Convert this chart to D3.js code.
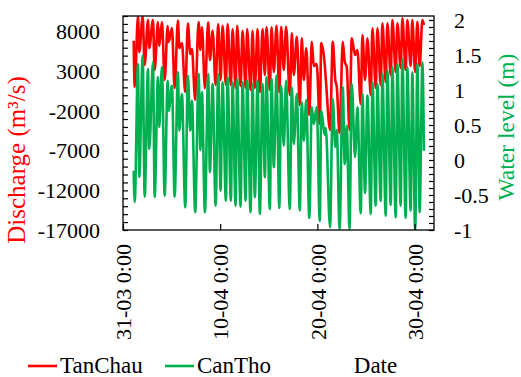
<!DOCTYPE html>
<html><head><meta charset="utf-8">
<script src="https://cdn.jsdelivr.net/npm/d3@7"></script>
<style>
body{margin:0;background:#fff}
svg{display:block}
svg text{font-family:"Liberation Serif","Times New Roman",Times,"DejaVu Serif",serif;fill:#000}
</style>
</head><body>
<svg id="chart" width="521" height="377"></svg>
<script>
// hours since 31-03 00:00 (tidal turning points)
const hours = [26.4,28.9,37.0,40.2,48.6,53.5,61.7,64.9,74.0,78.2,86.3,89.5,96.2,102.9,110.3,112.7,120.9,127.5,135.7,138.9,145.5,153.7,160.3,166.0,170.2,178.3,186.7,191.2,194.9,202.3,210.4,214.6,221.3,228.7,235.1,241.0,245.9,254.1,258.3,266.4,270.6,278.0,281.9,290.3,295.3,302.7,306.6,315.0,319.9,325.6,332.3,337.9,344.6,350.3,354.4,362.6,366.8,372.5,379.1,386.0,390.5,397.1,402.8,411.9,416.9,421.8,429.2,436.6,441.5,446.5,452.6,460.0,466.2,471.1,478.5,485.9,489.6,498.3,500.7,511.3,518.0,524.2,527.9,534.8,542.7,547.6,552.5,559.4,564.9,573.0,578.9,587.1,591.3,597.7,603.6,611.8,616.0,624.1,628.3,636.4,640.6,648.7,652.9,661.1,665.2,673.4,677.6,685.7,689.9,698.0,702.2,710.3,714.5,721.5,726.9,732.6,739.3,743.2];
// TanChau discharge (m3/s)
const tanChau = [6884,1042,9937,5458,9937,3818,9496,5963,9496,3187,9243,6215,9243,1926,8739,6720,8486,916,9433,5963,6594,411,9054,5206,5837,-598,9243,5711,8613,916,9205,4449,8146,1295,8991,1926,8777,1295,8991,1295,8360,916,8777,1168,8146,916,8360,664,8146,916,8360,411,8360,2556,8575,664,8575,2935,8777,411,8650,3187,8650,33,7818,2556,7389,-1229,7187,1926,5925,-2490,6758,3692,3944,-3626,6594,3818,2178,-4383,6758,1926,1080,-4762,6758,4197,3604,-4383,7187,5080,5711,-1103,7603,1926,7187,33,8448,916,8448,1295,9079,1673,9079,2556,9496,2935,9079,3440,9710,3187,9496,3692,9496,2935,9281,3692,9496,8865];
// CanTho water level (m)
const canTho = [-0.153,-0.60,1.371,-0.243,1.49,-0.524,1.30,0.157,1.396,-0.529,1.186,0.471,1.329,-0.51,1.133,0.704,1.061,-0.524,1.257,0.419,0.943,-0.676,1.204,0.419,0.847,-0.747,1.229,0.143,0.971,-0.747,1.229,-0.171,1.086,-0.653,1.229,-0.439,1.11,-0.581,1.181,-0.581,1.11,-0.653,1.157,-0.667,1.11,-0.581,1.133,-0.747,1.086,-0.533,1.133,-0.771,1.086,-0.247,1.181,-0.70,1.157,-0.104,1.204,-0.686,1.061,0.204,1.133,-0.70,1.039,0.229,0.943,-0.721,0.824,0.276,0.857,-0.829,0.753,0.514,0.757,-0.871,0.704,0.357,0.457,-0.961,0.871,0.186,0.429,-0.986,1.039,-0.057,0.49,-0.986,1.086,0.043,0.753,-0.761,0.943,-0.471,0.919,-0.771,1.11,-0.653,1.086,-0.586,1.229,-0.796,1.276,-0.643,1.324,-0.819,1.371,-0.653,1.443,-0.829,1.324,-0.724,1.253,-1.0,1.371,-0.747,1.396,0.133];

const seriesNames = ["TanChau","CanTho"];
const seriesColors = ["#FF0000","#00B050"];
const dateTicks = ["2018-03-31","2018-04-10","2018-04-20","2018-04-30"];
const leftLabels = [8000,3000,-2000,-7000,-12000,-17000];
const rightLabels = [2,1.5,1,0.5,0,-0.5,-1];

const FONT = '"Liberation Serif","Times New Roman",Times,"DejaVu Serif",serif';
const svg = d3.select("#chart");
const L = 123, R = 434, T = 16, B = 230;
const start = Date.UTC(2018,2,31);
const x = d3.scaleUtc().domain([new Date(start), new Date(Date.UTC(2018,4,2))]).range([L,R]);
const yL = d3.scaleLinear().domain([-17000,10000]).range([B,T]);
const yR = d3.scaleLinear().domain([-1,2.057]).range([B,T]);

const rows = hours.map((h,i)=>({t:new Date(start+h*3600e3), q:tanChau[i], w:canTho[i]}));

svg.append("defs").append("clipPath").attr("id","clip")
  .append("rect").attr("x",L).attr("y",T).attr("width",R-L).attr("height",B-T);

const g = svg.append("g").attr("clip-path","url(#clip)");
g.append("path").datum(rows)
  .attr("fill","none").attr("stroke",seriesColors[0]).attr("stroke-width",2.6).attr("stroke-linejoin","round")
  .attr("d", d3.line().x(d=>x(d.t)).y(d=>yL(d.q)).curve(d3.curveMonotoneX));
g.append("path").datum(rows)
  .attr("fill","none").attr("stroke",seriesColors[1]).attr("stroke-width",2.6).attr("stroke-linejoin","round")
  .attr("d", d3.line().x(d=>x(d.t)).y(d=>yR(d.w)).curve(d3.curveMonotoneX));

// frame
svg.append("rect").attr("x",L).attr("y",T).attr("width",R-L).attr("height",B-T)
  .attr("fill","none").attr("stroke","#000").attr("stroke-width",1.3);

// left axis
const ax1 = svg.append("g").attr("transform",`translate(${L},0)`)
  .call(d3.axisLeft(yL).tickValues(d3.range(-17000,10001,1000)).tickSizeInner(-5).tickSizeOuter(0).tickPadding(23)
    .tickFormat(d=>leftLabels.includes(d)?String(d):""));
// right axis
const ax2 = svg.append("g").attr("transform",`translate(${R},0)`)
  .call(d3.axisRight(yR).tickValues(d3.range(-10,21,1).map(v=>v/10)).tickSizeInner(-5).tickSizeOuter(0).tickPadding(20)
    .tickFormat(d=>rightLabels.some(v=>Math.abs(v-d)<1e-9)?String(d):""));
// bottom axis
const ax3 = svg.append("g").attr("transform",`translate(0,${B})`)
  .call(d3.axisBottom(x).tickValues(dateTicks.map(s=>new Date(s+"T00:00:00Z"))).tickSizeInner(-6).tickSizeOuter(0)
    .tickFormat(d3.utcFormat("%d-%m %-H:%M")));
ax3.selectAll("text").attr("transform","rotate(-90)").attr("x",-14).attr("y",0).attr("dy","0.35em").style("text-anchor","end");

[ax1,ax2,ax3].forEach(a=>{
  a.attr("font-family",FONT);
  a.select(".domain").remove();
  a.selectAll("line").attr("stroke","#000").attr("stroke-width",1.2);
  a.selectAll("text").style("font-family",FONT).style("font-size","22px").attr("fill","#000");
});

// axis titles
svg.append("text").attr("transform","translate(25,160) rotate(-90)").attr("text-anchor","middle")
  .style("font-family",FONT).style("font-size","25px").style("fill","#FF0000").text("Discharge (m³/s)");
svg.append("text").attr("transform","translate(514,127) rotate(-90)").attr("text-anchor","middle")
  .style("font-family",FONT).style("font-size","23.5px").style("fill","#00B050").text("Water level (m)");

// legend
const leg = [[28,60],[165,197]];
seriesNames.forEach((n,i)=>{
  svg.append("line").attr("x1",leg[i][0]).attr("x2",leg[i][0]+29).attr("y1",366).attr("y2",366)
    .attr("stroke",seriesColors[i]).attr("stroke-width",2.6);
  svg.append("text").attr("x",leg[i][1]).attr("y",373).style("font-family",FONT).style("font-size","23px").text(n);
});
svg.append("text").attr("x",375.5).attr("y",373).attr("text-anchor","middle").style("font-family",FONT).style("font-size","23px").text("Date");
</script>
</body></html>
